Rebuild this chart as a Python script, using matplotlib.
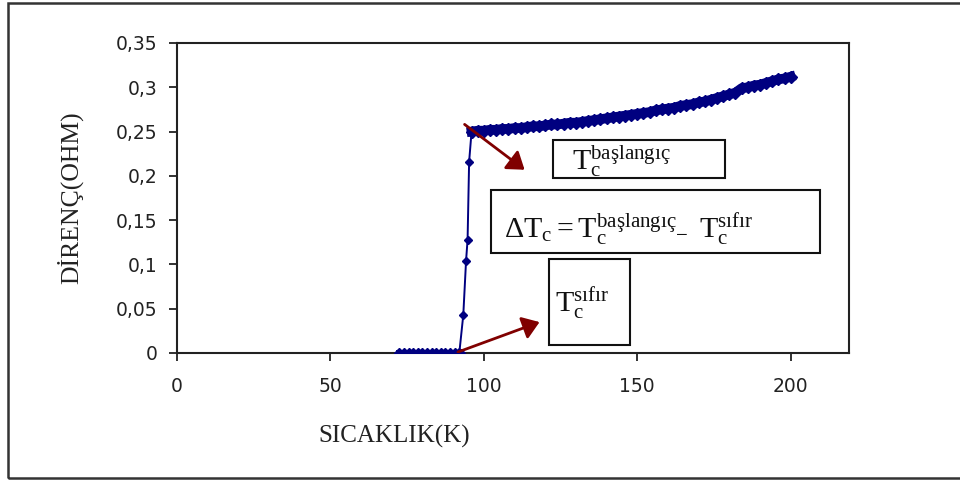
import matplotlib
matplotlib.use('Agg')
import matplotlib.pyplot as plt
from matplotlib.patches import Rectangle, FancyArrowPatch

plt.rcParams['mathtext.fontset'] = 'custom'
plt.rcParams['mathtext.rm'] = 'Liberation Serif'
plt.rcParams['mathtext.it'] = 'Liberation Serif'

# temperature (K) and resistance (ohm)
temp_zero = [72.5, 74, 75.5, 77, 78.5, 80, 81.5, 83, 84.5, 86, 87.5, 89, 90.5, 92]
res_zero = [0, 0, 0, 0, 0, 0, 0, 0, 0, 0, 0, 0, 0, 0]

temp_rise = [92.5, 93.3, 94.2, 94.7, 95.2, 96]
res_rise = [0.0, 0.043, 0.104, 0.128, 0.216, 0.250]

temp_norm = [96, 98, 100, 102, 104, 106, 108, 110, 112, 114, 116, 118, 120,
             122, 124, 126, 128, 130, 132, 134, 136, 138, 140, 142, 144, 146,
             148, 150, 152, 154, 156, 158, 160, 162, 164, 166, 168, 170, 172,
             174, 176, 178, 180, 182, 184, 186, 188, 190, 192, 194, 196, 198, 200]
res_norm = [0.250, 0.251, 0.251, 0.252, 0.252, 0.253, 0.253, 0.254, 0.254,
            0.255, 0.256, 0.256, 0.257, 0.258, 0.258, 0.259, 0.260, 0.260,
            0.261, 0.262, 0.263, 0.264, 0.265, 0.266, 0.267, 0.268, 0.269,
            0.270, 0.271, 0.272, 0.274, 0.275, 0.276, 0.277, 0.279, 0.280,
            0.281, 0.283, 0.284, 0.286, 0.288, 0.290, 0.292, 0.294, 0.299,
            0.300, 0.302, 0.303, 0.305, 0.307, 0.309, 0.310, 0.312]

yticks = [0, 0.05, 0.1, 0.15, 0.2, 0.25, 0.3, 0.35]
ytick_labels = ['0', '0,05', '0,1', '0,15', '0,2', '0,25', '0,3', '0,35']
xticks = [0, 50, 100, 150, 200]

navy = '#000080'
dark_red = '#800000'

fig = plt.figure(figsize=(9.6, 4.82), dpi=100)
ax = fig.add_axes([177 / 960, 1 - 353 / 482, 672 / 960, 310 / 482])

# outer frame
fig.patches.append(Rectangle((8 / 960, 1 - 478 / 482), 960 / 960, 475 / 482,
                             transform=fig.transFigure, fill=False,
                             edgecolor='#333333', linewidth=1.8))

# curve
ax.plot(temp_zero + temp_rise[1:] + temp_norm[1:],
        res_zero + res_rise[1:] + res_norm[1:],
        color=navy, linewidth=1.4, zorder=2)
ax.plot(temp_zero, res_zero, color=navy, linewidth=5, marker='D',
        markersize=5, zorder=3)
ax.plot(temp_rise, res_rise, linestyle='none', marker='D', markersize=4.5,
        color=navy, zorder=3)
ax.plot(temp_norm, res_norm, color=navy, linewidth=7, marker='D',
        markersize=6, zorder=3)

# arrows
for (x0, y0), (x1, y1) in [((93, 0.26), (114, 0.205)),
                           ((90.7, 0.0), (119, 0.036))]:
    ax.add_patch(FancyArrowPatch((x0, y0), (x1, y1),
                                 arrowstyle='-|>,head_length=10,head_width=7',
                                 color=dark_red, linewidth=2,
                                 mutation_scale=1, zorder=4))

ax.set_xlim(0, 219)
ax.set_ylim(0, 0.35)
ax.set_xticks(xticks)
ax.set_yticks(yticks)
ax.set_yticklabels(ytick_labels)
ax.tick_params(direction='out', length=6, width=1.3, color='#222222',
               labelsize=13.5)
ax.tick_params(axis='y', pad=8)
ax.tick_params(axis='x', pad=11)
for lab in ax.get_xticklabels() + ax.get_yticklabels():
    lab.set_family('DejaVu Sans')
    lab.set_color('#222222')
for sp in ax.spines.values():
    sp.set_linewidth(1.5)
    sp.set_color('#222222')

ax.set_xlabel('SICAKLIK(K)', family='Liberation Serif', fontsize=18,
              va='center', color='#222222')
ax.set_ylabel('DİRENÇ(OHM)', family='Liberation Serif', fontsize=18.5,
              va='center', color='#222222')
ax.xaxis.set_label_coords((394 - 177) / 672, (353 - 436) / 310)
ax.yaxis.set_label_coords((70 - 177) / 672, 0.5)


def fig_box(x0, y0, x1, y1):
    fig.patches.append(Rectangle((x0 / 960, 1 - y1 / 482), (x1 - x0) / 960,
                                 (y1 - y0) / 482, transform=fig.transFigure,
                                 fill=False, edgecolor='#111111',
                                 linewidth=1.5))


fig_box(553, 140, 725, 178)
fig_box(491, 190, 820, 253)
fig_box(549, 259, 630, 345)

fig.text(572 / 960, 1 - 170 / 482, r'$\mathrm{T_c^{başlangıç}}$',
         fontsize=21.5, color='#111111', va='baseline')
fig.text(504 / 960, 1 - 238 / 482,
         r'$\mathrm{\Delta T_c = T_c^{başlangıç}\!_-\ T_c^{sıfır}}$',
         fontsize=21.5, color='#111111', va='baseline')
fig.text(555 / 960, 1 - 312 / 482, r'$\mathrm{T_c^{sıfır}}$',
         fontsize=21.5, color='#111111', va='baseline')

fig.savefig('out.png', dpi=100)
